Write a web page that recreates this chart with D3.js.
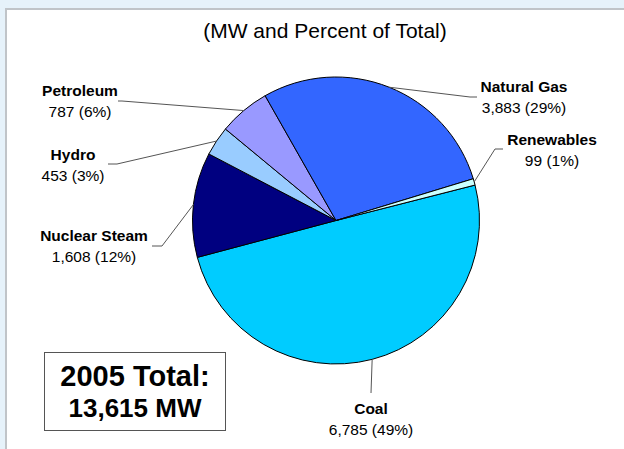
<!DOCTYPE html>
<meta charset="utf-8">
<style>
body { margin: 0; background: #e6f2fa; }
svg { display: block; font-family: Arial, "Liberation Sans", sans-serif; }
.lbl-name { font-weight: bold; font-size: 15.5px; fill: #000; }
.lbl-val { font-size: 15.5px; fill: #000; }
.leader { fill: none; stroke: #555; stroke-width: 1; }
</style>
<svg width="624" height="449"></svg>
<script src="https://d3js.org/d3.v7.min.js"></script>
<script>

// capacity by fuel, MW (2005)
var fuels = ["Coal", "Nuclear Steam", "Hydro", "Petroleum", "Natural Gas", "Renewables"];
var mw = [6785, 1608, 453, 787, 3883, 99];
var pct = [49, 12, 3, 6, 29, 1];
var colors = ["#00ccff", "#000080", "#99ccff", "#9999ff", "#3366ff", "#ccffff"];
var totalText = ["2005 Total:", "13,615 MW"];

// where each label sits, and the little horizontal stub of its leader line
var labelPos = {
  "Coal":          {x: 371, y: 414, stub: null},
  "Nuclear Steam": {x: 94,  y: 241, stub: [152, 162, 246]},
  "Hydro":         {x: 73,  y: 160, stub: [108, 117, 164]},
  "Petroleum":     {x: 80,  y: 96,  stub: [118, 122, 101]},
  "Natural Gas":   {x: 524, y: 92,  stub: [477, 470, 97]},
  "Renewables":    {x: 552, y: 145, stub: [503, 495, 149]}
};

var svg = d3.select("svg");

// white panel
svg.append("rect")
    .attr("x", 6).attr("y", 9)
    .attr("width", 700).attr("height", 500)
    .attr("fill", "#fff")
    .attr("stroke", "#c0c4c8")
    .attr("stroke-width", 2);

svg.append("text")
    .attr("x", 325).attr("y", 38)
    .attr("text-anchor", "middle")
    .attr("font-size", "21px")
    .text("(MW and Percent of Total)");

var cx = 336, cy = 220.5, r = 143.5;

var pie = d3.pie()
    .sort(null)
    .startAngle(75.7 * Math.PI / 180)
    .endAngle((75.7 + 360) * Math.PI / 180)
    .value(function(d) { return d; });

var arcs = pie(mw);
var arc = d3.arc().innerRadius(0).outerRadius(r);

var g = svg.append("g").attr("transform", "translate(" + cx + "," + cy + ")");

g.selectAll("path")
  .data(arcs)
  .enter().append("path")
    .attr("d", arc)
    .attr("fill", function(d, i) { return colors[i]; })
    .attr("stroke", "#000")
    .attr("stroke-width", 1);

// leader lines, from label stub to the middle of the slice edge
var fmt = d3.format(",");
arcs.forEach(function(a, i) {
  var name = fuels[i], p = labelPos[name];
  var mid = (a.startAngle + a.endAngle) / 2;
  var ex = cx + r * Math.sin(mid), ey = cy - r * Math.cos(mid);
  var pts;
  if (p.stub) pts = [[p.stub[0], p.stub[2]], [p.stub[1], p.stub[2]], [ex, ey]];
  else pts = [[p.x, p.y - 21], [ex, ey]];
  svg.append("path")
      .attr("class", "leader")
      .attr("d", d3.line()(pts));

  svg.append("text")
      .attr("class", "lbl-name")
      .attr("x", p.x).attr("y", p.y)
      .attr("text-anchor", "middle")
      .text(name);
  svg.append("text")
      .attr("class", "lbl-val")
      .attr("x", p.x).attr("y", p.y + 21)
      .attr("text-anchor", "middle")
      .text(fmt(mw[i]) + " (" + pct[i] + "%)");
});

// total box
svg.append("rect")
    .attr("x", 44.5).attr("y", 352.5)
    .attr("width", 181).attr("height", 78)
    .attr("fill", "#fff")
    .attr("stroke", "#555")
    .attr("stroke-width", 1);

svg.append("text")
    .attr("x", 135).attr("y", 386)
    .attr("text-anchor", "middle")
    .attr("font-weight", "bold")
    .attr("font-size", "29px")
    .text(totalText[0]);
svg.append("text")
    .attr("x", 135).attr("y", 417)
    .attr("text-anchor", "middle")
    .attr("font-weight", "bold")
    .attr("font-size", "26px")
    .text(totalText[1]);
</script>
